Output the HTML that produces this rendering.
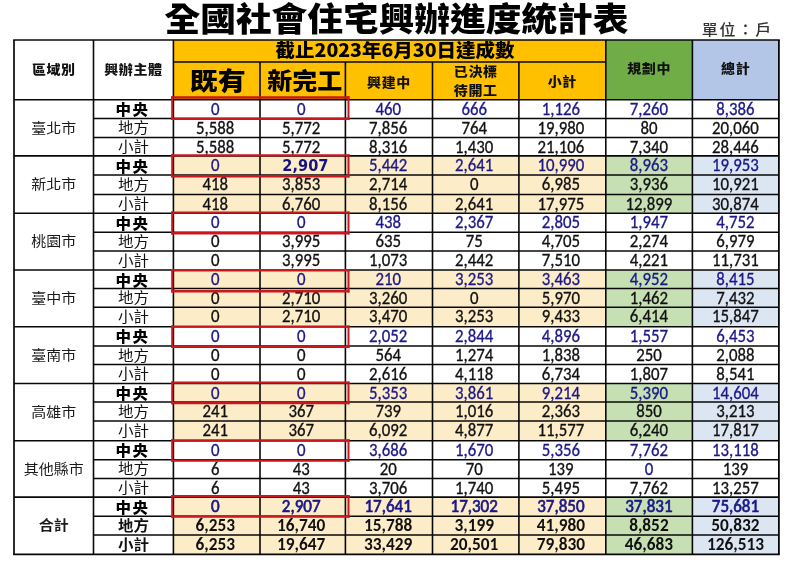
<!DOCTYPE html>
<html><head><meta charset="utf-8"><title>全國社會住宅興辦進度統計表</title>
<style>html,body{margin:0;padding:0;background:#fff;width:800px;height:566px;overflow:hidden}svg{display:block}</style>
</head><body>
<svg width="800" height="566" viewBox="0 0 800 566">
<rect x="173.4" y="40" width="432.4" height="59.7" fill="#FFC000"/>
<rect x="605.8" y="40" width="86.6" height="59.7" fill="#70AD47"/>
<rect x="692.4" y="40" width="86.5" height="59.7" fill="#B4C6E7"/>
<rect x="173.4" y="155.9" width="432.4" height="57.4" fill="#FDECC8"/>
<rect x="605.8" y="155.9" width="86.6" height="57.4" fill="#C6DFB3"/>
<rect x="692.4" y="155.9" width="86.5" height="57.4" fill="#DCE6F3"/>
<rect x="173.4" y="270" width="432.4" height="56.8" fill="#FDECC8"/>
<rect x="605.8" y="270" width="86.6" height="56.8" fill="#C6DFB3"/>
<rect x="692.4" y="270" width="86.5" height="56.8" fill="#DCE6F3"/>
<rect x="173.4" y="383.5" width="432.4" height="57.3" fill="#FDECC8"/>
<rect x="605.8" y="383.5" width="86.6" height="57.3" fill="#C6DFB3"/>
<rect x="692.4" y="383.5" width="86.5" height="57.3" fill="#DCE6F3"/>
<rect x="173.4" y="497.1" width="432.4" height="57.3" fill="#FDECC8"/>
<rect x="605.8" y="497.1" width="86.6" height="57.3" fill="#C6DFB3"/>
<rect x="692.4" y="497.1" width="86.5" height="57.3" fill="#DCE6F3"/>
<line x1="13.15" y1="40" x2="779.75" y2="40" stroke="#080808" stroke-width="1.7"/>
<line x1="13.15" y1="554.4" x2="779.75" y2="554.4" stroke="#080808" stroke-width="1.9"/>
<line x1="173.4" y1="62" x2="605.8" y2="62" stroke="#080808" stroke-width="1.6"/>
<line x1="14" y1="99.7" x2="778.9" y2="99.7" stroke="#080808" stroke-width="1.6"/>
<line x1="93.5" y1="118.45" x2="778.9" y2="118.45" stroke="#080808" stroke-width="1.5"/>
<line x1="93.5" y1="137.4" x2="778.9" y2="137.4" stroke="#080808" stroke-width="1.5"/>
<line x1="14" y1="155.9" x2="778.9" y2="155.9" stroke="#080808" stroke-width="1.6"/>
<line x1="93.5" y1="174.9" x2="778.9" y2="174.9" stroke="#080808" stroke-width="1.5"/>
<line x1="93.5" y1="194.4" x2="778.9" y2="194.4" stroke="#080808" stroke-width="1.5"/>
<line x1="14" y1="213.3" x2="778.9" y2="213.3" stroke="#080808" stroke-width="1.6"/>
<line x1="93.5" y1="232.3" x2="778.9" y2="232.3" stroke="#080808" stroke-width="1.5"/>
<line x1="93.5" y1="250.9" x2="778.9" y2="250.9" stroke="#080808" stroke-width="1.5"/>
<line x1="14" y1="270" x2="778.9" y2="270" stroke="#080808" stroke-width="1.6"/>
<line x1="93.5" y1="288.55" x2="778.9" y2="288.55" stroke="#080808" stroke-width="1.5"/>
<line x1="93.5" y1="307.3" x2="778.9" y2="307.3" stroke="#080808" stroke-width="1.5"/>
<line x1="14" y1="326.8" x2="778.9" y2="326.8" stroke="#080808" stroke-width="1.6"/>
<line x1="93.5" y1="346" x2="778.9" y2="346" stroke="#080808" stroke-width="1.5"/>
<line x1="93.5" y1="364.6" x2="778.9" y2="364.6" stroke="#080808" stroke-width="1.5"/>
<line x1="14" y1="383.5" x2="778.9" y2="383.5" stroke="#080808" stroke-width="1.6"/>
<line x1="93.5" y1="402.1" x2="778.9" y2="402.1" stroke="#080808" stroke-width="1.5"/>
<line x1="93.5" y1="421" x2="778.9" y2="421" stroke="#080808" stroke-width="1.5"/>
<line x1="14" y1="440.8" x2="778.9" y2="440.8" stroke="#080808" stroke-width="1.6"/>
<line x1="93.5" y1="459.65" x2="778.9" y2="459.65" stroke="#080808" stroke-width="1.5"/>
<line x1="93.5" y1="478.6" x2="778.9" y2="478.6" stroke="#080808" stroke-width="1.5"/>
<line x1="14" y1="497.1" x2="778.9" y2="497.1" stroke="#080808" stroke-width="1.6"/>
<line x1="93.5" y1="516.2" x2="778.9" y2="516.2" stroke="#080808" stroke-width="1.5"/>
<line x1="93.5" y1="535" x2="778.9" y2="535" stroke="#080808" stroke-width="1.5"/>
<line x1="14" y1="40" x2="14" y2="554.4" stroke="#080808" stroke-width="1.7"/>
<line x1="778.9" y1="40" x2="778.9" y2="554.4" stroke="#080808" stroke-width="1.8"/>
<line x1="93.5" y1="40" x2="93.5" y2="554.4" stroke="#080808" stroke-width="1.6"/>
<line x1="173.4" y1="40" x2="173.4" y2="554.4" stroke="#080808" stroke-width="1.6"/>
<line x1="605.8" y1="40" x2="605.8" y2="554.4" stroke="#080808" stroke-width="1.6"/>
<line x1="692.4" y1="40" x2="692.4" y2="554.4" stroke="#080808" stroke-width="1.6"/>
<line x1="260" y1="62" x2="260" y2="554.4" stroke="#080808" stroke-width="1.6"/>
<line x1="345.4" y1="62" x2="345.4" y2="554.4" stroke="#080808" stroke-width="1.6"/>
<line x1="432.5" y1="62" x2="432.5" y2="554.4" stroke="#080808" stroke-width="1.6"/>
<line x1="518.9" y1="62" x2="518.9" y2="554.4" stroke="#080808" stroke-width="1.6"/>
<text transform="translate(396.5 30.9) scale(1 0.923)" text-anchor="middle" font-family="'Noto Sans CJK TC','Noto Sans CJK JP',sans-serif" font-weight="900" font-size="35.7" fill="#000">全國社會住宅興辦進度統計表</text>
<text transform="translate(737.4 35.1) scale(1 0.95)" text-anchor="middle" font-family="'Noto Sans CJK TC','Noto Sans CJK JP',sans-serif" font-weight="500" font-size="16" fill="#333" letter-spacing="1.9">單位：戶</text>
<text transform="translate(53.75 73.69) scale(1 0.9)" text-anchor="middle" font-family="'Noto Sans CJK TC','Noto Sans CJK JP',sans-serif" font-weight="900" font-size="14" fill="#111" letter-spacing="0.6">區域別</text>
<text transform="translate(133.45 74.09) scale(1 0.9)" text-anchor="middle" font-family="'Noto Sans CJK TC','Noto Sans CJK JP',sans-serif" font-weight="900" font-size="14" fill="#111" letter-spacing="0.6">興辦主體</text>
<text transform="translate(388.95 87.04) scale(1 0.9)" text-anchor="middle" font-family="'Noto Sans CJK TC','Noto Sans CJK JP',sans-serif" font-weight="900" font-size="14" fill="#111" letter-spacing="0.6">興建中</text>
<text transform="translate(475.7 76.29) scale(1 0.9)" text-anchor="middle" font-family="'Noto Sans CJK TC','Noto Sans CJK JP',sans-serif" font-weight="900" font-size="14" fill="#111" letter-spacing="0.6">已決標</text>
<text transform="translate(475.7 95.24) scale(1 0.9)" text-anchor="middle" font-family="'Noto Sans CJK TC','Noto Sans CJK JP',sans-serif" font-weight="900" font-size="14" fill="#111" letter-spacing="0.6">待開工</text>
<text transform="translate(562.35 86.29) scale(1 0.9)" text-anchor="middle" font-family="'Noto Sans CJK TC','Noto Sans CJK JP',sans-serif" font-weight="900" font-size="14" fill="#111" letter-spacing="0.6">小計</text>
<text transform="translate(649.1 73.34) scale(1 0.9)" text-anchor="middle" font-family="'Noto Sans CJK TC','Noto Sans CJK JP',sans-serif" font-weight="900" font-size="14" fill="#111" letter-spacing="0.6">規劃中</text>
<text transform="translate(735.65 73.34) scale(1 0.9)" text-anchor="middle" font-family="'Noto Sans CJK TC','Noto Sans CJK JP',sans-serif" font-weight="900" font-size="14" fill="#111" letter-spacing="0.6">總計</text>
<text transform="translate(395 57.09) scale(1 0.93)" text-anchor="middle" font-family="'Noto Sans CJK TC','Noto Sans CJK JP',sans-serif" font-weight="900" font-size="19.5" fill="#000">截止2023年6月30日達成數</text>
<text transform="translate(217.7 89.62) scale(1 0.89)" text-anchor="middle" font-family="'Noto Sans CJK TC','Noto Sans CJK JP',sans-serif" font-weight="900" font-size="28" fill="#000">既有</text>
<text transform="translate(304.7 89.24) scale(1 0.92)" text-anchor="middle" font-family="'Noto Sans CJK TC','Noto Sans CJK JP',sans-serif" font-weight="900" font-size="25" fill="#000">新完工</text>
<text transform="translate(53.75 132.74) scale(1 0.92)" text-anchor="middle" font-family="'Noto Sans CJK TC','Noto Sans CJK JP',sans-serif" font-weight="400" font-size="15" fill="#1a1a1a">臺北市</text>
<text transform="translate(132.6 115.32) scale(1 0.92)" text-anchor="middle" font-family="'Noto Sans CJK TC','Noto Sans CJK JP',sans-serif" font-weight="900" font-size="15.5" fill="#000" letter-spacing="1.5">中央</text>
<text transform="translate(215.2 114.8) scale(1 1.05)" text-anchor="middle" font-family="Carlito,'Liberation Sans',sans-serif" font-weight="400" font-size="16.8" fill="#1B1888" stroke="#1B1888" stroke-width="0.3">0</text>
<text transform="translate(301.2 114.8) scale(1 1.05)" text-anchor="middle" font-family="Carlito,'Liberation Sans',sans-serif" font-weight="400" font-size="16.8" fill="#1B1888" stroke="#1B1888" stroke-width="0.3">0</text>
<text transform="translate(388.15 114.8) scale(1 1.05)" text-anchor="middle" font-family="Carlito,'Liberation Sans',sans-serif" font-weight="400" font-size="16.8" fill="#1B1888" stroke="#1B1888" stroke-width="0.3">460</text>
<text transform="translate(474.2 114.8) scale(1 1.05)" text-anchor="middle" font-family="Carlito,'Liberation Sans',sans-serif" font-weight="400" font-size="16.8" fill="#1B1888" stroke="#1B1888" stroke-width="0.3">666</text>
<text transform="translate(560.85 114.8) scale(1 1.05)" text-anchor="middle" font-family="Carlito,'Liberation Sans',sans-serif" font-weight="400" font-size="16.8" fill="#1B1888" stroke="#1B1888" stroke-width="0.3">1,126</text>
<text transform="translate(648.9 114.8) scale(1 1.05)" text-anchor="middle" font-family="Carlito,'Liberation Sans',sans-serif" font-weight="400" font-size="16.8" fill="#1B1888" stroke="#1B1888" stroke-width="0.3">7,260</text>
<text transform="translate(735.45 114.8) scale(1 1.05)" text-anchor="middle" font-family="Carlito,'Liberation Sans',sans-serif" font-weight="400" font-size="16.8" fill="#1B1888" stroke="#1B1888" stroke-width="0.3">8,386</text>
<text transform="translate(133.45 133.07) scale(1 0.92)" text-anchor="middle" font-family="'Noto Sans CJK TC','Noto Sans CJK JP',sans-serif" font-weight="400" font-size="15.5" fill="#111">地方</text>
<text transform="translate(215.2 133.55) scale(1 1.05)" text-anchor="middle" font-family="Carlito,'Liberation Sans',sans-serif" font-weight="400" font-size="16.8" fill="#111" stroke="#111" stroke-width="0.3">5,588</text>
<text transform="translate(301.2 133.55) scale(1 1.05)" text-anchor="middle" font-family="Carlito,'Liberation Sans',sans-serif" font-weight="400" font-size="16.8" fill="#111" stroke="#111" stroke-width="0.3">5,772</text>
<text transform="translate(388.15 133.55) scale(1 1.05)" text-anchor="middle" font-family="Carlito,'Liberation Sans',sans-serif" font-weight="400" font-size="16.8" fill="#111" stroke="#111" stroke-width="0.3">7,856</text>
<text transform="translate(474.2 133.55) scale(1 1.05)" text-anchor="middle" font-family="Carlito,'Liberation Sans',sans-serif" font-weight="400" font-size="16.8" fill="#111" stroke="#111" stroke-width="0.3">764</text>
<text transform="translate(560.85 133.55) scale(1 1.05)" text-anchor="middle" font-family="Carlito,'Liberation Sans',sans-serif" font-weight="400" font-size="16.8" fill="#111" stroke="#111" stroke-width="0.3">19,980</text>
<text transform="translate(648.9 133.55) scale(1 1.05)" text-anchor="middle" font-family="Carlito,'Liberation Sans',sans-serif" font-weight="400" font-size="16.8" fill="#111" stroke="#111" stroke-width="0.3">80</text>
<text transform="translate(735.45 133.55) scale(1 1.05)" text-anchor="middle" font-family="Carlito,'Liberation Sans',sans-serif" font-weight="400" font-size="16.8" fill="#111" stroke="#111" stroke-width="0.3">20,060</text>
<text transform="translate(133.45 152.02) scale(1 0.92)" text-anchor="middle" font-family="'Noto Sans CJK TC','Noto Sans CJK JP',sans-serif" font-weight="400" font-size="15.5" fill="#111">小計</text>
<text transform="translate(215.2 152.5) scale(1 1.05)" text-anchor="middle" font-family="Carlito,'Liberation Sans',sans-serif" font-weight="400" font-size="16.8" fill="#111" stroke="#111" stroke-width="0.3">5,588</text>
<text transform="translate(301.2 152.5) scale(1 1.05)" text-anchor="middle" font-family="Carlito,'Liberation Sans',sans-serif" font-weight="400" font-size="16.8" fill="#111" stroke="#111" stroke-width="0.3">5,772</text>
<text transform="translate(388.15 152.5) scale(1 1.05)" text-anchor="middle" font-family="Carlito,'Liberation Sans',sans-serif" font-weight="400" font-size="16.8" fill="#111" stroke="#111" stroke-width="0.3">8,316</text>
<text transform="translate(474.2 152.5) scale(1 1.05)" text-anchor="middle" font-family="Carlito,'Liberation Sans',sans-serif" font-weight="400" font-size="16.8" fill="#111" stroke="#111" stroke-width="0.3">1,430</text>
<text transform="translate(560.85 152.5) scale(1 1.05)" text-anchor="middle" font-family="Carlito,'Liberation Sans',sans-serif" font-weight="400" font-size="16.8" fill="#111" stroke="#111" stroke-width="0.3">21,106</text>
<text transform="translate(648.9 152.5) scale(1 1.05)" text-anchor="middle" font-family="Carlito,'Liberation Sans',sans-serif" font-weight="400" font-size="16.8" fill="#111" stroke="#111" stroke-width="0.3">7,340</text>
<text transform="translate(735.45 152.5) scale(1 1.05)" text-anchor="middle" font-family="Carlito,'Liberation Sans',sans-serif" font-weight="400" font-size="16.8" fill="#111" stroke="#111" stroke-width="0.3">28,446</text>
<path d="M171.2 97.5H349.5M171.2 118.8H349.5" stroke="#C8181E" stroke-width="2.4" fill="none"/>
<path d="M172.2 96.3V120M348.5 96.3V120" stroke="#C8181E" stroke-width="2.0" fill="none"/>
<text transform="translate(53.75 188.94) scale(1 0.92)" text-anchor="middle" font-family="'Noto Sans CJK TC','Noto Sans CJK JP',sans-serif" font-weight="400" font-size="15" fill="#1a1a1a">新北市</text>
<text transform="translate(132.6 171.52) scale(1 0.92)" text-anchor="middle" font-family="'Noto Sans CJK TC','Noto Sans CJK JP',sans-serif" font-weight="900" font-size="15.5" fill="#000" letter-spacing="1.5">中央</text>
<text transform="translate(215.2 171) scale(1 1.05)" text-anchor="middle" font-family="Carlito,'Liberation Sans',sans-serif" font-weight="400" font-size="16.8" fill="#1B1888" stroke="#1B1888" stroke-width="0.3">0</text>
<text transform="translate(305.4 171) scale(1 1.05)" text-anchor="middle" font-family="'DejaVu Sans',sans-serif" font-weight="700" font-size="14.6" fill="#16137E">2,907</text>
<text transform="translate(388.15 171) scale(1 1.05)" text-anchor="middle" font-family="Carlito,'Liberation Sans',sans-serif" font-weight="400" font-size="16.8" fill="#1B1888" stroke="#1B1888" stroke-width="0.3">5,442</text>
<text transform="translate(474.2 171) scale(1 1.05)" text-anchor="middle" font-family="Carlito,'Liberation Sans',sans-serif" font-weight="400" font-size="16.8" fill="#1B1888" stroke="#1B1888" stroke-width="0.3">2,641</text>
<text transform="translate(560.85 171) scale(1 1.05)" text-anchor="middle" font-family="Carlito,'Liberation Sans',sans-serif" font-weight="400" font-size="16.8" fill="#1B1888" stroke="#1B1888" stroke-width="0.3">10,990</text>
<text transform="translate(648.9 171) scale(1 1.05)" text-anchor="middle" font-family="Carlito,'Liberation Sans',sans-serif" font-weight="400" font-size="16.8" fill="#1B1888" stroke="#1B1888" stroke-width="0.3">8,963</text>
<text transform="translate(735.45 171) scale(1 1.05)" text-anchor="middle" font-family="Carlito,'Liberation Sans',sans-serif" font-weight="400" font-size="16.8" fill="#1B1888" stroke="#1B1888" stroke-width="0.3">19,953</text>
<text transform="translate(133.45 189.52) scale(1 0.92)" text-anchor="middle" font-family="'Noto Sans CJK TC','Noto Sans CJK JP',sans-serif" font-weight="400" font-size="15.5" fill="#111">地方</text>
<text transform="translate(215.2 190) scale(1 1.05)" text-anchor="middle" font-family="Carlito,'Liberation Sans',sans-serif" font-weight="400" font-size="16.8" fill="#111" stroke="#111" stroke-width="0.3">418</text>
<text transform="translate(301.2 190) scale(1 1.05)" text-anchor="middle" font-family="Carlito,'Liberation Sans',sans-serif" font-weight="400" font-size="16.8" fill="#111" stroke="#111" stroke-width="0.3">3,853</text>
<text transform="translate(388.15 190) scale(1 1.05)" text-anchor="middle" font-family="Carlito,'Liberation Sans',sans-serif" font-weight="400" font-size="16.8" fill="#111" stroke="#111" stroke-width="0.3">2,714</text>
<text transform="translate(474.2 190) scale(1 1.05)" text-anchor="middle" font-family="Carlito,'Liberation Sans',sans-serif" font-weight="400" font-size="16.8" fill="#111" stroke="#111" stroke-width="0.3">0</text>
<text transform="translate(560.85 190) scale(1 1.05)" text-anchor="middle" font-family="Carlito,'Liberation Sans',sans-serif" font-weight="400" font-size="16.8" fill="#111" stroke="#111" stroke-width="0.3">6,985</text>
<text transform="translate(648.9 190) scale(1 1.05)" text-anchor="middle" font-family="Carlito,'Liberation Sans',sans-serif" font-weight="400" font-size="16.8" fill="#111" stroke="#111" stroke-width="0.3">3,936</text>
<text transform="translate(735.45 190) scale(1 1.05)" text-anchor="middle" font-family="Carlito,'Liberation Sans',sans-serif" font-weight="400" font-size="16.8" fill="#111" stroke="#111" stroke-width="0.3">10,921</text>
<text transform="translate(133.45 209.02) scale(1 0.92)" text-anchor="middle" font-family="'Noto Sans CJK TC','Noto Sans CJK JP',sans-serif" font-weight="400" font-size="15.5" fill="#111">小計</text>
<text transform="translate(215.2 209.5) scale(1 1.05)" text-anchor="middle" font-family="Carlito,'Liberation Sans',sans-serif" font-weight="400" font-size="16.8" fill="#111" stroke="#111" stroke-width="0.3">418</text>
<text transform="translate(301.2 209.5) scale(1 1.05)" text-anchor="middle" font-family="Carlito,'Liberation Sans',sans-serif" font-weight="400" font-size="16.8" fill="#111" stroke="#111" stroke-width="0.3">6,760</text>
<text transform="translate(388.15 209.5) scale(1 1.05)" text-anchor="middle" font-family="Carlito,'Liberation Sans',sans-serif" font-weight="400" font-size="16.8" fill="#111" stroke="#111" stroke-width="0.3">8,156</text>
<text transform="translate(474.2 209.5) scale(1 1.05)" text-anchor="middle" font-family="Carlito,'Liberation Sans',sans-serif" font-weight="400" font-size="16.8" fill="#111" stroke="#111" stroke-width="0.3">2,641</text>
<text transform="translate(560.85 209.5) scale(1 1.05)" text-anchor="middle" font-family="Carlito,'Liberation Sans',sans-serif" font-weight="400" font-size="16.8" fill="#111" stroke="#111" stroke-width="0.3">17,975</text>
<text transform="translate(648.9 209.5) scale(1 1.05)" text-anchor="middle" font-family="Carlito,'Liberation Sans',sans-serif" font-weight="400" font-size="16.8" fill="#111" stroke="#111" stroke-width="0.3">12,899</text>
<text transform="translate(735.45 209.5) scale(1 1.05)" text-anchor="middle" font-family="Carlito,'Liberation Sans',sans-serif" font-weight="400" font-size="16.8" fill="#111" stroke="#111" stroke-width="0.3">30,874</text>
<path d="M171.2 155.4H349.5M171.2 176.2H349.5" stroke="#C8181E" stroke-width="2.4" fill="none"/>
<path d="M172.2 154.2V177.4M348.5 154.2V177.4" stroke="#C8181E" stroke-width="2.0" fill="none"/>
<text transform="translate(53.75 246.34) scale(1 0.92)" text-anchor="middle" font-family="'Noto Sans CJK TC','Noto Sans CJK JP',sans-serif" font-weight="400" font-size="15" fill="#1a1a1a">桃園市</text>
<text transform="translate(132.6 228.92) scale(1 0.92)" text-anchor="middle" font-family="'Noto Sans CJK TC','Noto Sans CJK JP',sans-serif" font-weight="900" font-size="15.5" fill="#000" letter-spacing="1.5">中央</text>
<text transform="translate(215.2 228.4) scale(1 1.05)" text-anchor="middle" font-family="Carlito,'Liberation Sans',sans-serif" font-weight="400" font-size="16.8" fill="#1B1888" stroke="#1B1888" stroke-width="0.3">0</text>
<text transform="translate(301.2 228.4) scale(1 1.05)" text-anchor="middle" font-family="Carlito,'Liberation Sans',sans-serif" font-weight="400" font-size="16.8" fill="#1B1888" stroke="#1B1888" stroke-width="0.3">0</text>
<text transform="translate(388.15 228.4) scale(1 1.05)" text-anchor="middle" font-family="Carlito,'Liberation Sans',sans-serif" font-weight="400" font-size="16.8" fill="#1B1888" stroke="#1B1888" stroke-width="0.3">438</text>
<text transform="translate(474.2 228.4) scale(1 1.05)" text-anchor="middle" font-family="Carlito,'Liberation Sans',sans-serif" font-weight="400" font-size="16.8" fill="#1B1888" stroke="#1B1888" stroke-width="0.3">2,367</text>
<text transform="translate(560.85 228.4) scale(1 1.05)" text-anchor="middle" font-family="Carlito,'Liberation Sans',sans-serif" font-weight="400" font-size="16.8" fill="#1B1888" stroke="#1B1888" stroke-width="0.3">2,805</text>
<text transform="translate(648.9 228.4) scale(1 1.05)" text-anchor="middle" font-family="Carlito,'Liberation Sans',sans-serif" font-weight="400" font-size="16.8" fill="#1B1888" stroke="#1B1888" stroke-width="0.3">1,947</text>
<text transform="translate(735.45 228.4) scale(1 1.05)" text-anchor="middle" font-family="Carlito,'Liberation Sans',sans-serif" font-weight="400" font-size="16.8" fill="#1B1888" stroke="#1B1888" stroke-width="0.3">4,752</text>
<text transform="translate(133.45 246.92) scale(1 0.92)" text-anchor="middle" font-family="'Noto Sans CJK TC','Noto Sans CJK JP',sans-serif" font-weight="400" font-size="15.5" fill="#111">地方</text>
<text transform="translate(215.2 247.4) scale(1 1.05)" text-anchor="middle" font-family="Carlito,'Liberation Sans',sans-serif" font-weight="400" font-size="16.8" fill="#111" stroke="#111" stroke-width="0.3">0</text>
<text transform="translate(301.2 247.4) scale(1 1.05)" text-anchor="middle" font-family="Carlito,'Liberation Sans',sans-serif" font-weight="400" font-size="16.8" fill="#111" stroke="#111" stroke-width="0.3">3,995</text>
<text transform="translate(388.15 247.4) scale(1 1.05)" text-anchor="middle" font-family="Carlito,'Liberation Sans',sans-serif" font-weight="400" font-size="16.8" fill="#111" stroke="#111" stroke-width="0.3">635</text>
<text transform="translate(474.2 247.4) scale(1 1.05)" text-anchor="middle" font-family="Carlito,'Liberation Sans',sans-serif" font-weight="400" font-size="16.8" fill="#111" stroke="#111" stroke-width="0.3">75</text>
<text transform="translate(560.85 247.4) scale(1 1.05)" text-anchor="middle" font-family="Carlito,'Liberation Sans',sans-serif" font-weight="400" font-size="16.8" fill="#111" stroke="#111" stroke-width="0.3">4,705</text>
<text transform="translate(648.9 247.4) scale(1 1.05)" text-anchor="middle" font-family="Carlito,'Liberation Sans',sans-serif" font-weight="400" font-size="16.8" fill="#111" stroke="#111" stroke-width="0.3">2,274</text>
<text transform="translate(735.45 247.4) scale(1 1.05)" text-anchor="middle" font-family="Carlito,'Liberation Sans',sans-serif" font-weight="400" font-size="16.8" fill="#111" stroke="#111" stroke-width="0.3">6,979</text>
<text transform="translate(133.45 265.52) scale(1 0.92)" text-anchor="middle" font-family="'Noto Sans CJK TC','Noto Sans CJK JP',sans-serif" font-weight="400" font-size="15.5" fill="#111">小計</text>
<text transform="translate(215.2 266) scale(1 1.05)" text-anchor="middle" font-family="Carlito,'Liberation Sans',sans-serif" font-weight="400" font-size="16.8" fill="#111" stroke="#111" stroke-width="0.3">0</text>
<text transform="translate(301.2 266) scale(1 1.05)" text-anchor="middle" font-family="Carlito,'Liberation Sans',sans-serif" font-weight="400" font-size="16.8" fill="#111" stroke="#111" stroke-width="0.3">3,995</text>
<text transform="translate(388.15 266) scale(1 1.05)" text-anchor="middle" font-family="Carlito,'Liberation Sans',sans-serif" font-weight="400" font-size="16.8" fill="#111" stroke="#111" stroke-width="0.3">1,073</text>
<text transform="translate(474.2 266) scale(1 1.05)" text-anchor="middle" font-family="Carlito,'Liberation Sans',sans-serif" font-weight="400" font-size="16.8" fill="#111" stroke="#111" stroke-width="0.3">2,442</text>
<text transform="translate(560.85 266) scale(1 1.05)" text-anchor="middle" font-family="Carlito,'Liberation Sans',sans-serif" font-weight="400" font-size="16.8" fill="#111" stroke="#111" stroke-width="0.3">7,510</text>
<text transform="translate(648.9 266) scale(1 1.05)" text-anchor="middle" font-family="Carlito,'Liberation Sans',sans-serif" font-weight="400" font-size="16.8" fill="#111" stroke="#111" stroke-width="0.3">4,221</text>
<text transform="translate(735.45 266) scale(1 1.05)" text-anchor="middle" font-family="Carlito,'Liberation Sans',sans-serif" font-weight="400" font-size="16.8" fill="#111" stroke="#111" stroke-width="0.3">11,731</text>
<path d="M171.2 212.6H349.5M171.2 233.3H349.5" stroke="#C8181E" stroke-width="2.4" fill="none"/>
<path d="M172.2 211.4V234.5M348.5 211.4V234.5" stroke="#C8181E" stroke-width="2.0" fill="none"/>
<text transform="translate(53.75 303.04) scale(1 0.92)" text-anchor="middle" font-family="'Noto Sans CJK TC','Noto Sans CJK JP',sans-serif" font-weight="400" font-size="15" fill="#1a1a1a">臺中市</text>
<text transform="translate(132.6 285.62) scale(1 0.92)" text-anchor="middle" font-family="'Noto Sans CJK TC','Noto Sans CJK JP',sans-serif" font-weight="900" font-size="15.5" fill="#000" letter-spacing="1.5">中央</text>
<text transform="translate(215.2 285.1) scale(1 1.05)" text-anchor="middle" font-family="Carlito,'Liberation Sans',sans-serif" font-weight="400" font-size="16.8" fill="#1B1888" stroke="#1B1888" stroke-width="0.3">0</text>
<text transform="translate(301.2 285.1) scale(1 1.05)" text-anchor="middle" font-family="Carlito,'Liberation Sans',sans-serif" font-weight="400" font-size="16.8" fill="#1B1888" stroke="#1B1888" stroke-width="0.3">0</text>
<text transform="translate(388.15 285.1) scale(1 1.05)" text-anchor="middle" font-family="Carlito,'Liberation Sans',sans-serif" font-weight="400" font-size="16.8" fill="#1B1888" stroke="#1B1888" stroke-width="0.3">210</text>
<text transform="translate(474.2 285.1) scale(1 1.05)" text-anchor="middle" font-family="Carlito,'Liberation Sans',sans-serif" font-weight="400" font-size="16.8" fill="#1B1888" stroke="#1B1888" stroke-width="0.3">3,253</text>
<text transform="translate(560.85 285.1) scale(1 1.05)" text-anchor="middle" font-family="Carlito,'Liberation Sans',sans-serif" font-weight="400" font-size="16.8" fill="#1B1888" stroke="#1B1888" stroke-width="0.3">3,463</text>
<text transform="translate(648.9 285.1) scale(1 1.05)" text-anchor="middle" font-family="Carlito,'Liberation Sans',sans-serif" font-weight="400" font-size="16.8" fill="#1B1888" stroke="#1B1888" stroke-width="0.3">4,952</text>
<text transform="translate(735.45 285.1) scale(1 1.05)" text-anchor="middle" font-family="Carlito,'Liberation Sans',sans-serif" font-weight="400" font-size="16.8" fill="#1B1888" stroke="#1B1888" stroke-width="0.3">8,415</text>
<text transform="translate(133.45 303.17) scale(1 0.92)" text-anchor="middle" font-family="'Noto Sans CJK TC','Noto Sans CJK JP',sans-serif" font-weight="400" font-size="15.5" fill="#111">地方</text>
<text transform="translate(215.2 303.65) scale(1 1.05)" text-anchor="middle" font-family="Carlito,'Liberation Sans',sans-serif" font-weight="400" font-size="16.8" fill="#111" stroke="#111" stroke-width="0.3">0</text>
<text transform="translate(301.2 303.65) scale(1 1.05)" text-anchor="middle" font-family="Carlito,'Liberation Sans',sans-serif" font-weight="400" font-size="16.8" fill="#111" stroke="#111" stroke-width="0.3">2,710</text>
<text transform="translate(388.15 303.65) scale(1 1.05)" text-anchor="middle" font-family="Carlito,'Liberation Sans',sans-serif" font-weight="400" font-size="16.8" fill="#111" stroke="#111" stroke-width="0.3">3,260</text>
<text transform="translate(474.2 303.65) scale(1 1.05)" text-anchor="middle" font-family="Carlito,'Liberation Sans',sans-serif" font-weight="400" font-size="16.8" fill="#111" stroke="#111" stroke-width="0.3">0</text>
<text transform="translate(560.85 303.65) scale(1 1.05)" text-anchor="middle" font-family="Carlito,'Liberation Sans',sans-serif" font-weight="400" font-size="16.8" fill="#111" stroke="#111" stroke-width="0.3">5,970</text>
<text transform="translate(648.9 303.65) scale(1 1.05)" text-anchor="middle" font-family="Carlito,'Liberation Sans',sans-serif" font-weight="400" font-size="16.8" fill="#111" stroke="#111" stroke-width="0.3">1,462</text>
<text transform="translate(735.45 303.65) scale(1 1.05)" text-anchor="middle" font-family="Carlito,'Liberation Sans',sans-serif" font-weight="400" font-size="16.8" fill="#111" stroke="#111" stroke-width="0.3">7,432</text>
<text transform="translate(133.45 321.92) scale(1 0.92)" text-anchor="middle" font-family="'Noto Sans CJK TC','Noto Sans CJK JP',sans-serif" font-weight="400" font-size="15.5" fill="#111">小計</text>
<text transform="translate(215.2 322.4) scale(1 1.05)" text-anchor="middle" font-family="Carlito,'Liberation Sans',sans-serif" font-weight="400" font-size="16.8" fill="#111" stroke="#111" stroke-width="0.3">0</text>
<text transform="translate(301.2 322.4) scale(1 1.05)" text-anchor="middle" font-family="Carlito,'Liberation Sans',sans-serif" font-weight="400" font-size="16.8" fill="#111" stroke="#111" stroke-width="0.3">2,710</text>
<text transform="translate(388.15 322.4) scale(1 1.05)" text-anchor="middle" font-family="Carlito,'Liberation Sans',sans-serif" font-weight="400" font-size="16.8" fill="#111" stroke="#111" stroke-width="0.3">3,470</text>
<text transform="translate(474.2 322.4) scale(1 1.05)" text-anchor="middle" font-family="Carlito,'Liberation Sans',sans-serif" font-weight="400" font-size="16.8" fill="#111" stroke="#111" stroke-width="0.3">3,253</text>
<text transform="translate(560.85 322.4) scale(1 1.05)" text-anchor="middle" font-family="Carlito,'Liberation Sans',sans-serif" font-weight="400" font-size="16.8" fill="#111" stroke="#111" stroke-width="0.3">9,433</text>
<text transform="translate(648.9 322.4) scale(1 1.05)" text-anchor="middle" font-family="Carlito,'Liberation Sans',sans-serif" font-weight="400" font-size="16.8" fill="#111" stroke="#111" stroke-width="0.3">6,414</text>
<text transform="translate(735.45 322.4) scale(1 1.05)" text-anchor="middle" font-family="Carlito,'Liberation Sans',sans-serif" font-weight="400" font-size="16.8" fill="#111" stroke="#111" stroke-width="0.3">15,847</text>
<path d="M171.2 270.3H349.5M171.2 291.2H349.5" stroke="#C8181E" stroke-width="2.4" fill="none"/>
<path d="M172.2 269.1V292.4M348.5 269.1V292.4" stroke="#C8181E" stroke-width="2.0" fill="none"/>
<text transform="translate(53.75 359.84) scale(1 0.92)" text-anchor="middle" font-family="'Noto Sans CJK TC','Noto Sans CJK JP',sans-serif" font-weight="400" font-size="15" fill="#1a1a1a">臺南市</text>
<text transform="translate(132.6 342.42) scale(1 0.92)" text-anchor="middle" font-family="'Noto Sans CJK TC','Noto Sans CJK JP',sans-serif" font-weight="900" font-size="15.5" fill="#000" letter-spacing="1.5">中央</text>
<text transform="translate(215.2 341.9) scale(1 1.05)" text-anchor="middle" font-family="Carlito,'Liberation Sans',sans-serif" font-weight="400" font-size="16.8" fill="#1B1888" stroke="#1B1888" stroke-width="0.3">0</text>
<text transform="translate(301.2 341.9) scale(1 1.05)" text-anchor="middle" font-family="Carlito,'Liberation Sans',sans-serif" font-weight="400" font-size="16.8" fill="#1B1888" stroke="#1B1888" stroke-width="0.3">0</text>
<text transform="translate(388.15 341.9) scale(1 1.05)" text-anchor="middle" font-family="Carlito,'Liberation Sans',sans-serif" font-weight="400" font-size="16.8" fill="#1B1888" stroke="#1B1888" stroke-width="0.3">2,052</text>
<text transform="translate(474.2 341.9) scale(1 1.05)" text-anchor="middle" font-family="Carlito,'Liberation Sans',sans-serif" font-weight="400" font-size="16.8" fill="#1B1888" stroke="#1B1888" stroke-width="0.3">2,844</text>
<text transform="translate(560.85 341.9) scale(1 1.05)" text-anchor="middle" font-family="Carlito,'Liberation Sans',sans-serif" font-weight="400" font-size="16.8" fill="#1B1888" stroke="#1B1888" stroke-width="0.3">4,896</text>
<text transform="translate(648.9 341.9) scale(1 1.05)" text-anchor="middle" font-family="Carlito,'Liberation Sans',sans-serif" font-weight="400" font-size="16.8" fill="#1B1888" stroke="#1B1888" stroke-width="0.3">1,557</text>
<text transform="translate(735.45 341.9) scale(1 1.05)" text-anchor="middle" font-family="Carlito,'Liberation Sans',sans-serif" font-weight="400" font-size="16.8" fill="#1B1888" stroke="#1B1888" stroke-width="0.3">6,453</text>
<text transform="translate(133.45 360.62) scale(1 0.92)" text-anchor="middle" font-family="'Noto Sans CJK TC','Noto Sans CJK JP',sans-serif" font-weight="400" font-size="15.5" fill="#111">地方</text>
<text transform="translate(215.2 361.1) scale(1 1.05)" text-anchor="middle" font-family="Carlito,'Liberation Sans',sans-serif" font-weight="400" font-size="16.8" fill="#111" stroke="#111" stroke-width="0.3">0</text>
<text transform="translate(301.2 361.1) scale(1 1.05)" text-anchor="middle" font-family="Carlito,'Liberation Sans',sans-serif" font-weight="400" font-size="16.8" fill="#111" stroke="#111" stroke-width="0.3">0</text>
<text transform="translate(388.15 361.1) scale(1 1.05)" text-anchor="middle" font-family="Carlito,'Liberation Sans',sans-serif" font-weight="400" font-size="16.8" fill="#111" stroke="#111" stroke-width="0.3">564</text>
<text transform="translate(474.2 361.1) scale(1 1.05)" text-anchor="middle" font-family="Carlito,'Liberation Sans',sans-serif" font-weight="400" font-size="16.8" fill="#111" stroke="#111" stroke-width="0.3">1,274</text>
<text transform="translate(560.85 361.1) scale(1 1.05)" text-anchor="middle" font-family="Carlito,'Liberation Sans',sans-serif" font-weight="400" font-size="16.8" fill="#111" stroke="#111" stroke-width="0.3">1,838</text>
<text transform="translate(648.9 361.1) scale(1 1.05)" text-anchor="middle" font-family="Carlito,'Liberation Sans',sans-serif" font-weight="400" font-size="16.8" fill="#111" stroke="#111" stroke-width="0.3">250</text>
<text transform="translate(735.45 361.1) scale(1 1.05)" text-anchor="middle" font-family="Carlito,'Liberation Sans',sans-serif" font-weight="400" font-size="16.8" fill="#111" stroke="#111" stroke-width="0.3">2,088</text>
<text transform="translate(133.45 379.22) scale(1 0.92)" text-anchor="middle" font-family="'Noto Sans CJK TC','Noto Sans CJK JP',sans-serif" font-weight="400" font-size="15.5" fill="#111">小計</text>
<text transform="translate(215.2 379.7) scale(1 1.05)" text-anchor="middle" font-family="Carlito,'Liberation Sans',sans-serif" font-weight="400" font-size="16.8" fill="#111" stroke="#111" stroke-width="0.3">0</text>
<text transform="translate(301.2 379.7) scale(1 1.05)" text-anchor="middle" font-family="Carlito,'Liberation Sans',sans-serif" font-weight="400" font-size="16.8" fill="#111" stroke="#111" stroke-width="0.3">0</text>
<text transform="translate(388.15 379.7) scale(1 1.05)" text-anchor="middle" font-family="Carlito,'Liberation Sans',sans-serif" font-weight="400" font-size="16.8" fill="#111" stroke="#111" stroke-width="0.3">2,616</text>
<text transform="translate(474.2 379.7) scale(1 1.05)" text-anchor="middle" font-family="Carlito,'Liberation Sans',sans-serif" font-weight="400" font-size="16.8" fill="#111" stroke="#111" stroke-width="0.3">4,118</text>
<text transform="translate(560.85 379.7) scale(1 1.05)" text-anchor="middle" font-family="Carlito,'Liberation Sans',sans-serif" font-weight="400" font-size="16.8" fill="#111" stroke="#111" stroke-width="0.3">6,734</text>
<text transform="translate(648.9 379.7) scale(1 1.05)" text-anchor="middle" font-family="Carlito,'Liberation Sans',sans-serif" font-weight="400" font-size="16.8" fill="#111" stroke="#111" stroke-width="0.3">1,807</text>
<text transform="translate(735.45 379.7) scale(1 1.05)" text-anchor="middle" font-family="Carlito,'Liberation Sans',sans-serif" font-weight="400" font-size="16.8" fill="#111" stroke="#111" stroke-width="0.3">8,541</text>
<path d="M171.2 326.6H349.5M171.2 346.7H349.5" stroke="#C8181E" stroke-width="2.4" fill="none"/>
<path d="M172.2 325.4V347.9M348.5 325.4V347.9" stroke="#C8181E" stroke-width="2.0" fill="none"/>
<text transform="translate(53.75 416.54) scale(1 0.92)" text-anchor="middle" font-family="'Noto Sans CJK TC','Noto Sans CJK JP',sans-serif" font-weight="400" font-size="15" fill="#1a1a1a">高雄市</text>
<text transform="translate(132.6 399.12) scale(1 0.92)" text-anchor="middle" font-family="'Noto Sans CJK TC','Noto Sans CJK JP',sans-serif" font-weight="900" font-size="15.5" fill="#000" letter-spacing="1.5">中央</text>
<text transform="translate(215.2 398.6) scale(1 1.05)" text-anchor="middle" font-family="Carlito,'Liberation Sans',sans-serif" font-weight="400" font-size="16.8" fill="#1B1888" stroke="#1B1888" stroke-width="0.3">0</text>
<text transform="translate(301.2 398.6) scale(1 1.05)" text-anchor="middle" font-family="Carlito,'Liberation Sans',sans-serif" font-weight="400" font-size="16.8" fill="#1B1888" stroke="#1B1888" stroke-width="0.3">0</text>
<text transform="translate(388.15 398.6) scale(1 1.05)" text-anchor="middle" font-family="Carlito,'Liberation Sans',sans-serif" font-weight="400" font-size="16.8" fill="#1B1888" stroke="#1B1888" stroke-width="0.3">5,353</text>
<text transform="translate(474.2 398.6) scale(1 1.05)" text-anchor="middle" font-family="Carlito,'Liberation Sans',sans-serif" font-weight="400" font-size="16.8" fill="#1B1888" stroke="#1B1888" stroke-width="0.3">3,861</text>
<text transform="translate(560.85 398.6) scale(1 1.05)" text-anchor="middle" font-family="Carlito,'Liberation Sans',sans-serif" font-weight="400" font-size="16.8" fill="#1B1888" stroke="#1B1888" stroke-width="0.3">9,214</text>
<text transform="translate(648.9 398.6) scale(1 1.05)" text-anchor="middle" font-family="Carlito,'Liberation Sans',sans-serif" font-weight="400" font-size="16.8" fill="#1B1888" stroke="#1B1888" stroke-width="0.3">5,390</text>
<text transform="translate(735.45 398.6) scale(1 1.05)" text-anchor="middle" font-family="Carlito,'Liberation Sans',sans-serif" font-weight="400" font-size="16.8" fill="#1B1888" stroke="#1B1888" stroke-width="0.3">14,604</text>
<text transform="translate(133.45 416.72) scale(1 0.92)" text-anchor="middle" font-family="'Noto Sans CJK TC','Noto Sans CJK JP',sans-serif" font-weight="400" font-size="15.5" fill="#111">地方</text>
<text transform="translate(215.2 417.2) scale(1 1.05)" text-anchor="middle" font-family="Carlito,'Liberation Sans',sans-serif" font-weight="400" font-size="16.8" fill="#111" stroke="#111" stroke-width="0.3">241</text>
<text transform="translate(301.2 417.2) scale(1 1.05)" text-anchor="middle" font-family="Carlito,'Liberation Sans',sans-serif" font-weight="400" font-size="16.8" fill="#111" stroke="#111" stroke-width="0.3">367</text>
<text transform="translate(388.15 417.2) scale(1 1.05)" text-anchor="middle" font-family="Carlito,'Liberation Sans',sans-serif" font-weight="400" font-size="16.8" fill="#111" stroke="#111" stroke-width="0.3">739</text>
<text transform="translate(474.2 417.2) scale(1 1.05)" text-anchor="middle" font-family="Carlito,'Liberation Sans',sans-serif" font-weight="400" font-size="16.8" fill="#111" stroke="#111" stroke-width="0.3">1,016</text>
<text transform="translate(560.85 417.2) scale(1 1.05)" text-anchor="middle" font-family="Carlito,'Liberation Sans',sans-serif" font-weight="400" font-size="16.8" fill="#111" stroke="#111" stroke-width="0.3">2,363</text>
<text transform="translate(648.9 417.2) scale(1 1.05)" text-anchor="middle" font-family="Carlito,'Liberation Sans',sans-serif" font-weight="400" font-size="16.8" fill="#111" stroke="#111" stroke-width="0.3">850</text>
<text transform="translate(735.45 417.2) scale(1 1.05)" text-anchor="middle" font-family="Carlito,'Liberation Sans',sans-serif" font-weight="400" font-size="16.8" fill="#111" stroke="#111" stroke-width="0.3">3,213</text>
<text transform="translate(133.45 435.62) scale(1 0.92)" text-anchor="middle" font-family="'Noto Sans CJK TC','Noto Sans CJK JP',sans-serif" font-weight="400" font-size="15.5" fill="#111">小計</text>
<text transform="translate(215.2 436.1) scale(1 1.05)" text-anchor="middle" font-family="Carlito,'Liberation Sans',sans-serif" font-weight="400" font-size="16.8" fill="#111" stroke="#111" stroke-width="0.3">241</text>
<text transform="translate(301.2 436.1) scale(1 1.05)" text-anchor="middle" font-family="Carlito,'Liberation Sans',sans-serif" font-weight="400" font-size="16.8" fill="#111" stroke="#111" stroke-width="0.3">367</text>
<text transform="translate(388.15 436.1) scale(1 1.05)" text-anchor="middle" font-family="Carlito,'Liberation Sans',sans-serif" font-weight="400" font-size="16.8" fill="#111" stroke="#111" stroke-width="0.3">6,092</text>
<text transform="translate(474.2 436.1) scale(1 1.05)" text-anchor="middle" font-family="Carlito,'Liberation Sans',sans-serif" font-weight="400" font-size="16.8" fill="#111" stroke="#111" stroke-width="0.3">4,877</text>
<text transform="translate(560.85 436.1) scale(1 1.05)" text-anchor="middle" font-family="Carlito,'Liberation Sans',sans-serif" font-weight="400" font-size="16.8" fill="#111" stroke="#111" stroke-width="0.3">11,577</text>
<text transform="translate(648.9 436.1) scale(1 1.05)" text-anchor="middle" font-family="Carlito,'Liberation Sans',sans-serif" font-weight="400" font-size="16.8" fill="#111" stroke="#111" stroke-width="0.3">6,240</text>
<text transform="translate(735.45 436.1) scale(1 1.05)" text-anchor="middle" font-family="Carlito,'Liberation Sans',sans-serif" font-weight="400" font-size="16.8" fill="#111" stroke="#111" stroke-width="0.3">17,817</text>
<path d="M171.2 382.6H349.5M171.2 403H349.5" stroke="#C8181E" stroke-width="2.4" fill="none"/>
<path d="M172.2 381.4V404.2M348.5 381.4V404.2" stroke="#C8181E" stroke-width="2.0" fill="none"/>
<text transform="translate(53.75 473.84) scale(1 0.92)" text-anchor="middle" font-family="'Noto Sans CJK TC','Noto Sans CJK JP',sans-serif" font-weight="400" font-size="15" fill="#1a1a1a">其他縣市</text>
<text transform="translate(132.6 456.42) scale(1 0.92)" text-anchor="middle" font-family="'Noto Sans CJK TC','Noto Sans CJK JP',sans-serif" font-weight="900" font-size="15.5" fill="#000" letter-spacing="1.5">中央</text>
<text transform="translate(215.2 455.9) scale(1 1.05)" text-anchor="middle" font-family="Carlito,'Liberation Sans',sans-serif" font-weight="400" font-size="16.8" fill="#1B1888" stroke="#1B1888" stroke-width="0.3">0</text>
<text transform="translate(301.2 455.9) scale(1 1.05)" text-anchor="middle" font-family="Carlito,'Liberation Sans',sans-serif" font-weight="400" font-size="16.8" fill="#1B1888" stroke="#1B1888" stroke-width="0.3">0</text>
<text transform="translate(388.15 455.9) scale(1 1.05)" text-anchor="middle" font-family="Carlito,'Liberation Sans',sans-serif" font-weight="400" font-size="16.8" fill="#1B1888" stroke="#1B1888" stroke-width="0.3">3,686</text>
<text transform="translate(474.2 455.9) scale(1 1.05)" text-anchor="middle" font-family="Carlito,'Liberation Sans',sans-serif" font-weight="400" font-size="16.8" fill="#1B1888" stroke="#1B1888" stroke-width="0.3">1,670</text>
<text transform="translate(560.85 455.9) scale(1 1.05)" text-anchor="middle" font-family="Carlito,'Liberation Sans',sans-serif" font-weight="400" font-size="16.8" fill="#1B1888" stroke="#1B1888" stroke-width="0.3">5,356</text>
<text transform="translate(648.9 455.9) scale(1 1.05)" text-anchor="middle" font-family="Carlito,'Liberation Sans',sans-serif" font-weight="400" font-size="16.8" fill="#1B1888" stroke="#1B1888" stroke-width="0.3">7,762</text>
<text transform="translate(735.45 455.9) scale(1 1.05)" text-anchor="middle" font-family="Carlito,'Liberation Sans',sans-serif" font-weight="400" font-size="16.8" fill="#1B1888" stroke="#1B1888" stroke-width="0.3">13,118</text>
<text transform="translate(133.45 474.27) scale(1 0.92)" text-anchor="middle" font-family="'Noto Sans CJK TC','Noto Sans CJK JP',sans-serif" font-weight="400" font-size="15.5" fill="#111">地方</text>
<text transform="translate(215.2 474.75) scale(1 1.05)" text-anchor="middle" font-family="Carlito,'Liberation Sans',sans-serif" font-weight="400" font-size="16.8" fill="#111" stroke="#111" stroke-width="0.3">6</text>
<text transform="translate(301.2 474.75) scale(1 1.05)" text-anchor="middle" font-family="Carlito,'Liberation Sans',sans-serif" font-weight="400" font-size="16.8" fill="#111" stroke="#111" stroke-width="0.3">43</text>
<text transform="translate(388.15 474.75) scale(1 1.05)" text-anchor="middle" font-family="Carlito,'Liberation Sans',sans-serif" font-weight="400" font-size="16.8" fill="#111" stroke="#111" stroke-width="0.3">20</text>
<text transform="translate(474.2 474.75) scale(1 1.05)" text-anchor="middle" font-family="Carlito,'Liberation Sans',sans-serif" font-weight="400" font-size="16.8" fill="#111" stroke="#111" stroke-width="0.3">70</text>
<text transform="translate(560.85 474.75) scale(1 1.05)" text-anchor="middle" font-family="Carlito,'Liberation Sans',sans-serif" font-weight="400" font-size="16.8" fill="#111" stroke="#111" stroke-width="0.3">139</text>
<text transform="translate(648.9 474.75) scale(1 1.05)" text-anchor="middle" font-family="Carlito,'Liberation Sans',sans-serif" font-weight="400" font-size="16.8" fill="#1B1888" stroke="#1B1888" stroke-width="0.3">0</text>
<text transform="translate(735.45 474.75) scale(1 1.05)" text-anchor="middle" font-family="Carlito,'Liberation Sans',sans-serif" font-weight="400" font-size="16.8" fill="#111" stroke="#111" stroke-width="0.3">139</text>
<text transform="translate(133.45 493.22) scale(1 0.92)" text-anchor="middle" font-family="'Noto Sans CJK TC','Noto Sans CJK JP',sans-serif" font-weight="400" font-size="15.5" fill="#111">小計</text>
<text transform="translate(215.2 493.7) scale(1 1.05)" text-anchor="middle" font-family="Carlito,'Liberation Sans',sans-serif" font-weight="400" font-size="16.8" fill="#111" stroke="#111" stroke-width="0.3">6</text>
<text transform="translate(301.2 493.7) scale(1 1.05)" text-anchor="middle" font-family="Carlito,'Liberation Sans',sans-serif" font-weight="400" font-size="16.8" fill="#111" stroke="#111" stroke-width="0.3">43</text>
<text transform="translate(388.15 493.7) scale(1 1.05)" text-anchor="middle" font-family="Carlito,'Liberation Sans',sans-serif" font-weight="400" font-size="16.8" fill="#111" stroke="#111" stroke-width="0.3">3,706</text>
<text transform="translate(474.2 493.7) scale(1 1.05)" text-anchor="middle" font-family="Carlito,'Liberation Sans',sans-serif" font-weight="400" font-size="16.8" fill="#111" stroke="#111" stroke-width="0.3">1,740</text>
<text transform="translate(560.85 493.7) scale(1 1.05)" text-anchor="middle" font-family="Carlito,'Liberation Sans',sans-serif" font-weight="400" font-size="16.8" fill="#111" stroke="#111" stroke-width="0.3">5,495</text>
<text transform="translate(648.9 493.7) scale(1 1.05)" text-anchor="middle" font-family="Carlito,'Liberation Sans',sans-serif" font-weight="400" font-size="16.8" fill="#111" stroke="#111" stroke-width="0.3">7,762</text>
<text transform="translate(735.45 493.7) scale(1 1.05)" text-anchor="middle" font-family="Carlito,'Liberation Sans',sans-serif" font-weight="400" font-size="16.8" fill="#111" stroke="#111" stroke-width="0.3">13,257</text>
<path d="M171.2 440.5H349.5M171.2 460.6H349.5" stroke="#C8181E" stroke-width="2.4" fill="none"/>
<path d="M172.2 439.3V461.8M348.5 439.3V461.8" stroke="#C8181E" stroke-width="2.0" fill="none"/>
<text transform="translate(53.75 530.14) scale(1 0.92)" text-anchor="middle" font-family="'Noto Sans CJK TC','Noto Sans CJK JP',sans-serif" font-weight="700" font-size="15" fill="#1a1a1a">合計</text>
<text transform="translate(132.6 512.72) scale(1 0.92)" text-anchor="middle" font-family="'Noto Sans CJK TC','Noto Sans CJK JP',sans-serif" font-weight="900" font-size="15.5" fill="#000" letter-spacing="1.5">中央</text>
<text transform="translate(215.2 512.2) scale(1 1.05)" text-anchor="middle" font-family="Carlito,'Liberation Sans',sans-serif" font-weight="400" font-size="17.0" fill="#1B1888" stroke="#1B1888" stroke-width="0.65">0</text>
<text transform="translate(301.2 512.2) scale(1 1.05)" text-anchor="middle" font-family="Carlito,'Liberation Sans',sans-serif" font-weight="400" font-size="17.0" fill="#1B1888" stroke="#1B1888" stroke-width="0.65">2,907</text>
<text transform="translate(388.15 512.2) scale(1 1.05)" text-anchor="middle" font-family="Carlito,'Liberation Sans',sans-serif" font-weight="400" font-size="17.0" fill="#1B1888" stroke="#1B1888" stroke-width="0.65">17,641</text>
<text transform="translate(474.2 512.2) scale(1 1.05)" text-anchor="middle" font-family="Carlito,'Liberation Sans',sans-serif" font-weight="400" font-size="17.0" fill="#1B1888" stroke="#1B1888" stroke-width="0.65">17,302</text>
<text transform="translate(560.85 512.2) scale(1 1.05)" text-anchor="middle" font-family="Carlito,'Liberation Sans',sans-serif" font-weight="400" font-size="17.0" fill="#1B1888" stroke="#1B1888" stroke-width="0.65">37,850</text>
<text transform="translate(648.9 512.2) scale(1 1.05)" text-anchor="middle" font-family="Carlito,'Liberation Sans',sans-serif" font-weight="400" font-size="17.0" fill="#1B1888" stroke="#1B1888" stroke-width="0.65">37,831</text>
<text transform="translate(735.45 512.2) scale(1 1.05)" text-anchor="middle" font-family="Carlito,'Liberation Sans',sans-serif" font-weight="400" font-size="17.0" fill="#1B1888" stroke="#1B1888" stroke-width="0.65">75,681</text>
<text transform="translate(133.45 530.82) scale(1 0.92)" text-anchor="middle" font-family="'Noto Sans CJK TC','Noto Sans CJK JP',sans-serif" font-weight="700" font-size="15.5" fill="#111">地方</text>
<text transform="translate(215.2 531.3) scale(1 1.05)" text-anchor="middle" font-family="Carlito,'Liberation Sans',sans-serif" font-weight="700" font-size="17.3" fill="#111">6,253</text>
<text transform="translate(301.2 531.3) scale(1 1.05)" text-anchor="middle" font-family="Carlito,'Liberation Sans',sans-serif" font-weight="700" font-size="17.3" fill="#111">16,740</text>
<text transform="translate(388.15 531.3) scale(1 1.05)" text-anchor="middle" font-family="Carlito,'Liberation Sans',sans-serif" font-weight="700" font-size="17.3" fill="#111">15,788</text>
<text transform="translate(474.2 531.3) scale(1 1.05)" text-anchor="middle" font-family="Carlito,'Liberation Sans',sans-serif" font-weight="700" font-size="17.3" fill="#111">3,199</text>
<text transform="translate(560.85 531.3) scale(1 1.05)" text-anchor="middle" font-family="Carlito,'Liberation Sans',sans-serif" font-weight="700" font-size="17.3" fill="#111">41,980</text>
<text transform="translate(648.9 531.3) scale(1 1.05)" text-anchor="middle" font-family="Carlito,'Liberation Sans',sans-serif" font-weight="700" font-size="17.3" fill="#111">8,852</text>
<text transform="translate(735.45 531.3) scale(1 1.05)" text-anchor="middle" font-family="Carlito,'Liberation Sans',sans-serif" font-weight="700" font-size="17.3" fill="#111">50,832</text>
<text transform="translate(133.45 549.62) scale(1 0.92)" text-anchor="middle" font-family="'Noto Sans CJK TC','Noto Sans CJK JP',sans-serif" font-weight="700" font-size="15.5" fill="#111">小計</text>
<text transform="translate(215.2 550.1) scale(1 1.05)" text-anchor="middle" font-family="Carlito,'Liberation Sans',sans-serif" font-weight="700" font-size="17.3" fill="#111">6,253</text>
<text transform="translate(301.2 550.1) scale(1 1.05)" text-anchor="middle" font-family="Carlito,'Liberation Sans',sans-serif" font-weight="700" font-size="17.3" fill="#111">19,647</text>
<text transform="translate(388.15 550.1) scale(1 1.05)" text-anchor="middle" font-family="Carlito,'Liberation Sans',sans-serif" font-weight="700" font-size="17.3" fill="#111">33,429</text>
<text transform="translate(474.2 550.1) scale(1 1.05)" text-anchor="middle" font-family="Carlito,'Liberation Sans',sans-serif" font-weight="700" font-size="17.3" fill="#111">20,501</text>
<text transform="translate(560.85 550.1) scale(1 1.05)" text-anchor="middle" font-family="Carlito,'Liberation Sans',sans-serif" font-weight="700" font-size="17.3" fill="#111">79,830</text>
<text transform="translate(648.9 550.1) scale(1 1.05)" text-anchor="middle" font-family="Carlito,'Liberation Sans',sans-serif" font-weight="700" font-size="17.3" fill="#111">46,683</text>
<text transform="translate(735.45 550.1) scale(1 1.05)" text-anchor="middle" font-family="Carlito,'Liberation Sans',sans-serif" font-weight="700" font-size="17.3" fill="#111">126,513</text>
<path d="M171.2 496.3H349.5M171.2 516.5H349.5" stroke="#C8181E" stroke-width="2.4" fill="none"/>
<path d="M172.2 495.1V517.7M348.5 495.1V517.7" stroke="#C8181E" stroke-width="2.0" fill="none"/>
</svg>
</body></html>
